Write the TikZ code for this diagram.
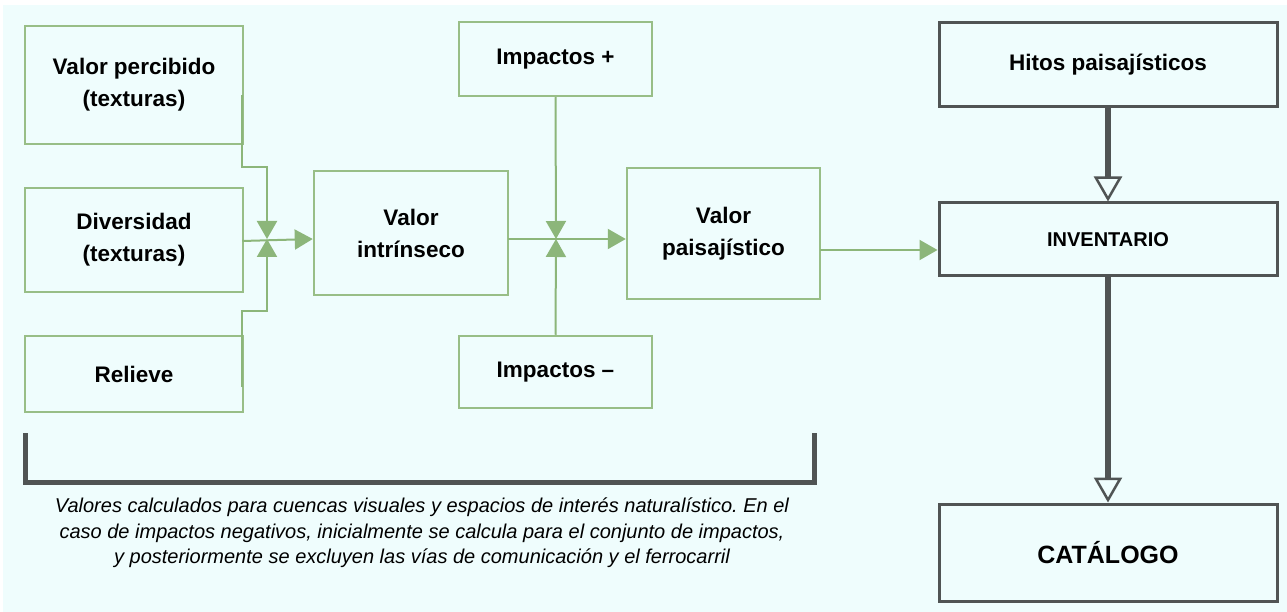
\documentclass[tikz,border=0pt]{standalone}
\usepackage{fontspec}
\setmainfont{Liberation Sans}
\usetikzlibrary{arrows.meta,positioning,calc}
\definecolor{fondo}{RGB}{239,253,253}
\definecolor{verde}{RGB}{152,190,135}
\definecolor{verdeosc}{RGB}{140,182,122}
\definecolor{gris}{RGB}{80,84,84}
\frenchspacing

\begin{document}
\begin{tikzpicture}[x=1pt, y=-1pt,
    box/.style={draw=verde, line width=2.5pt, minimum width=218pt, align=center, inner sep=0pt, font=\fontsize{22.5}{32}\selectfont\bfseries},
    darkbox/.style={draw=gris, line width=3pt, minimum width=338pt, align=center, inner sep=0pt, font=\fontsize{22.5}{32}\selectfont\bfseries},
    arrow/.style={-{Triangle[width=20pt,length=18pt]}, draw=verde, line width=2pt, color=verdeosc},
    thickarrow/.style={-{Triangle[open,width=28pt,length=25pt,line width=2.5pt]}, draw=gris, line width=6pt}
]
    % fondo
    \useasboundingbox (0,0) rectangle (1287,612);
    \fill[fondo] (3,5) rectangle (1287,612);

    % factores del valor intrinseco
    \node[box, minimum height=118pt] (vp) at (134,85) {Valor percibido\\(texturas)};
    \node[box, minimum height=104pt] (div) at (134,240) {Diversidad\\(texturas)};
    \node[box, minimum height=76pt] (rel) at (134,374) {Relieve};

    % valores
    \node[box, minimum width=194pt, minimum height=124pt] (vi) at (411,233) {Valor\\intrínseco};
    \node[box, minimum width=193pt, minimum height=74pt] (ipos) at (555.5,59) {Impactos +};
    \node[box, minimum width=193pt, minimum height=72pt] (ineg) at (555.5,372) {Impactos –};
    \node[box, minimum width=193pt, minimum height=131pt] (vpa) at (723.5,233.5) {Valor\\paisajístico};

    % inventario y catalogo
    \node[darkbox, minimum height=84pt] (hitos) at (1108,65) {Hitos paisajísticos};
    \node[darkbox, minimum height=73pt, font=\fontsize{20}{30}\selectfont\bfseries] (inv) at (1108,239.5) {INVENTARIO};
    \node[darkbox, minimum height=97pt, font=\fontsize{25}{30}\selectfont\bfseries] (cat) at (1108,552.5) {CATÁLOGO};

    % uniones
    \coordinate (j1) at (267,239);
    \coordinate (j2) at (556,239);

    % conectores
    \draw[arrow] ([xshift=-2pt,yshift=-10pt]vp.east) -- ++(0,72) -| (j1);
    \draw[arrow] ([xshift=-2pt,yshift=-13pt]rel.east) -- ++(0,-76) -| (j1);
    \draw[arrow] ([xshift=-2pt,yshift=-1pt]div.east) -- ([yshift=-6pt]vi.west);
    \draw[arrow] (ipos.south) -- (j2);
    \draw[arrow] (ineg.north) -- (j2);
    \draw[arrow] ([xshift=-1pt,yshift=-6pt]vi.east) -- ([yshift=-5.5pt]vpa.west);
    \draw[arrow] ([xshift=-1pt,yshift=-16.5pt]vpa.east) -- ([yshift=-10.5pt]inv.west);
    \draw[thickarrow] (hitos.south) -- (inv.north);
    \draw[thickarrow] (inv.south) -- (cat.north);

    % llave inferior
    \draw[gris, line width=5pt] (25.5,433) |- (814.5,482.5) -- (814.5,433);
    \node[align=center, font=\fontsize{20}{25.5}\selectfont\itshape] (nota) at (422,533)
        {Valores calculados para cuencas visuales y espacios de interés naturalístico. En el\\
         caso de impactos negativos, inicialmente se calcula para el conjunto de impactos,\\
         y posteriormente se excluyen las vías de comunicación y el ferrocarril};
\end{tikzpicture}
\end{document}
